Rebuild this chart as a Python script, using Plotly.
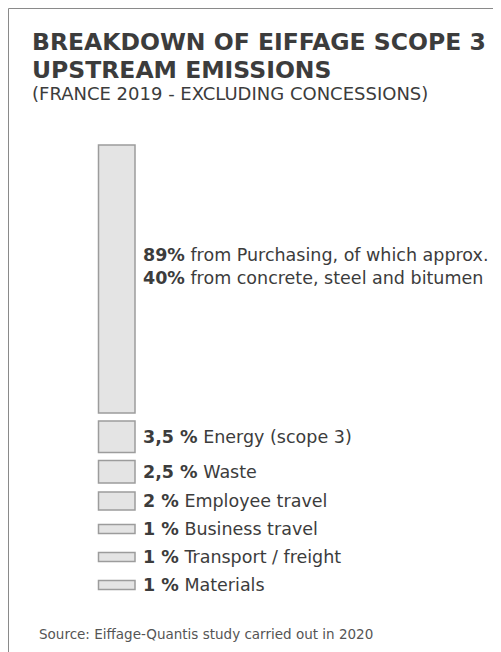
import plotly.graph_objects as go

# shares of Eiffage scope 3 upstream emissions (France 2019)
shares = [89, 3.5, 2.5, 2, 1, 1, 1]
share_labels = ["89%", "3,5 %", "2,5 %", "2 %", "1 %", "1 %", "1 %"]
categories = [
    "from Purchasing, of which approx.<br><b>40%</b> from concrete, steel and bitumen",
    "Energy (scope 3)",
    "Waste",
    "Employee travel",
    "Business travel",
    "Transport / freight",
    "Materials",
]

title_lines = ["BREAKDOWN OF EIFFAGE SCOPE 3", "UPSTREAM EMISSIONS"]
subtitle = "(FRANCE 2019 - EXCLUDING CONCESSIONS)"
source = "Source: Eiffage-Quantis study carried out in 2020"

# page is 501x652 but the body has an 8px margin, so the figure is smaller
# and the axes are set up in page pixels
PAGE_W, PAGE_H, OFF = 501, 652, 8
FONT = "DejaVu Sans"
DARK = "#3c3c3c"

# drawing scale: 9 px per percentage point,
# bars taller than BREAK_PX are drawn with a scale break
PX_PER_PCT = 9
BREAK_PX = 268
MIN_ROW = 20
GAP = 8
TOP = 145
BOX_X0, BOX_W = 98.5, 36.5
LABEL_X = 141

thick = [min(v * PX_PER_PCT, BREAK_PX) for v in shares]
centers = []
y = TOP
for h in thick:
    row = max(h, MIN_ROW)
    centers.append(y + row / 2)
    y += row + GAP

fig = go.Figure()
fig.add_trace(go.Bar(
    orientation="h",
    y=centers,
    x=[BOX_W] * len(shares),
    base=BOX_X0,
    width=thick,
    marker=dict(color="#e4e4e4", line=dict(color="#9c9c9c", width=1.5)),
    hoverinfo="skip",
    showlegend=False,
))

annotations = []
for i, (lab, cat) in enumerate(zip(share_labels, categories)):
    annotations.append(dict(
        x=LABEL_X, y=centers[i], xref="x", yref="y",
        xanchor="left", yanchor="middle", align="left",
        text=f"<b>{lab}</b> {cat}",
        showarrow=False,
        yshift=13 if i == 0 else 0,
        font=dict(family=FONT, size=17.5, color=DARK),
    ))

for j, line in enumerate(title_lines):
    annotations.append(dict(
        x=30, y=42 + 28 * j, xref="x", yref="y",
        xanchor="left", yanchor="middle",
        text=f"<b>{line}</b>", showarrow=False,
        font=dict(family=FONT, size=23.5, color=DARK),
    ))
annotations.append(dict(
    x=30, y=93, xref="x", yref="y", xanchor="left", yanchor="middle",
    text=subtitle, showarrow=False,
    font=dict(family=FONT, size=18, color=DARK),
))
annotations.append(dict(
    x=37, y=634, xref="x", yref="y", xanchor="left", yanchor="middle",
    text=source, showarrow=False,
    font=dict(family=FONT, size=13.5, color="#555555"),
))

fig.update_layout(
    width=PAGE_W - OFF, height=PAGE_H - OFF,
    margin=dict(l=0, r=0, t=0, b=0),
    paper_bgcolor="white", plot_bgcolor="white",
    xaxis=dict(range=[OFF, PAGE_W], visible=False, fixedrange=True),
    yaxis=dict(range=[PAGE_H, OFF], visible=False, fixedrange=True),
    annotations=annotations,
    shapes=[
        dict(type="line", xref="x", yref="y", x0=OFF + 0.5, x1=PAGE_W,
             y0=OFF + 0.5, y1=OFF + 0.5, line=dict(color="#8a8a8a", width=1)),
        dict(type="line", xref="x", yref="y", x0=OFF + 0.5, x1=OFF + 0.5,
             y0=OFF + 0.5, y1=PAGE_H, line=dict(color="#8a8a8a", width=1)),
    ],
)

fig.write_html("out.html")
